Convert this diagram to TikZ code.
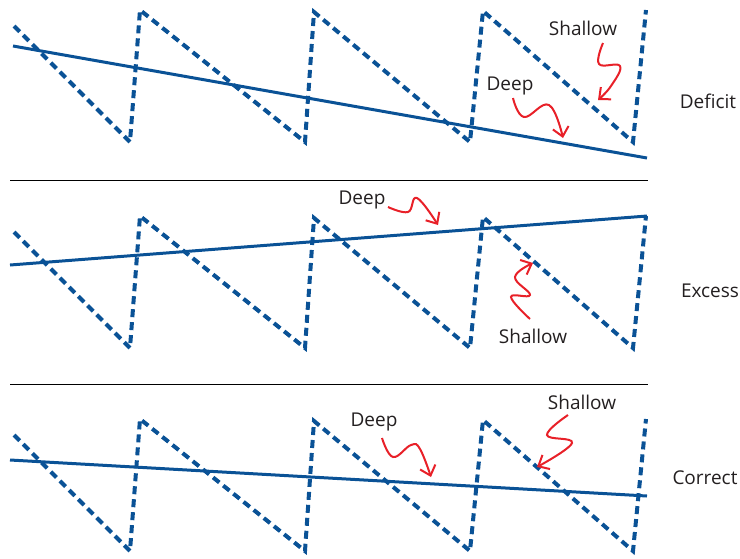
\documentclass[tikz,border=0pt]{standalone}
\usepackage{fontspec}
\setmainfont{Open Sans}
\usetikzlibrary{arrows.meta}

\definecolor{sawblue}{RGB}{10,82,150}
\definecolor{wavered}{RGB}{232,32,40}
\definecolor{labelgray}{RGB}{35,31,32}

\tikzset{
  saw/.style={sawblue, line width=4pt, dash pattern=on 8pt off 5pt},
  trend/.style={sawblue, line width=3pt},
  squiggle/.style={wavered, line width=2pt, -{Straight Barb[length=9pt,width=16pt]}},
  lbl/.style={text=labelgray, font=\fontsize{19}{22}\selectfont, inner sep=1pt},
  divider/.style={black, line width=0.8pt}
}

\begin{document}
\begin{tikzpicture}[x=1pt,y=-1pt]
\useasboundingbox (0,0) rectangle (740,558);

% Sagezahn (gleich in allen drei Feldern)
	\foreach \dy in {0,206,409}
	{
	\begin{scope}[shift={(0,\dy)}]
		\draw[saw] (14,26) -- (130,142) -- (140,10) -- (305,142) -- (314,12)
			-- (470,142) -- (483,11) -- (633,142) -- (646,10);
	\end{scope}
	}

% Trendlinien
	\draw[trend] (13,46) -- (647,158);
	\draw[trend] (10,265) -- (647,216);
	\draw[trend] (10,460) -- (647,496);

% Trennlinien
	\draw[divider] (10,180) -- (648,180);
	\draw[divider] (10,384) -- (648,384);

% Feldnamen
	\node[lbl] (deficit) at (708,101) {Deficit};
	\node[lbl] (excess)  at (710,291) {Excess};
	\node[lbl] (correct) at (705,478) {Correct};

% Beschriftungen
	\node[lbl] (shallowA) at (583,28)  {Shallow};
	\node[lbl] (deepA)    at (510,86)  {Deep};
	\node[lbl] (deepB)    at (362,200) {Deep};
	\node[lbl] (shallowB) at (533,336) {Shallow};
	\node[lbl] (deepC)    at (374,422) {Deep};
	\node[lbl] (shallowC) at (582,402) {Shallow};

% Pfeilspitzen
	\coordinate (tipShA) at (598,100);
	\coordinate (tipDeA) at (563,138);
	\coordinate (tipDeB) at (438,225);
	\coordinate (tipShB) at (533,263);
	\coordinate (tipDeC) at (431,477);
	\coordinate (tipShC) at (537,467);

% Kringelpfeile
	\draw[squiggle] plot[smooth, tension=0.7] coordinates
		{(603,43) (599,64) (620,66) (611,86) (tipShA)};
	\draw[squiggle] plot[smooth, tension=0.7] coordinates
		{(513,98) (524,117) (549,105) (tipDeA)};
	\draw[squiggle] plot[smooth, tension=0.7] coordinates
		{(388,207) (408,212) (417,198) (tipDeB)};
	\draw[squiggle] plot[smooth, tension=0.7] coordinates
		{(530,319) (511,297) (530,295) (515,277) (tipShB)};
	\draw[squiggle] plot[smooth, tension=0.7] coordinates
		{(382,438) (393,457) (411,445) (420,449) (tipDeC)};
	\draw[squiggle] plot[smooth, tension=0.7] coordinates
		{(568,415) (547,435) (572,443) (tipShC)};
\end{tikzpicture}
\end{document}
